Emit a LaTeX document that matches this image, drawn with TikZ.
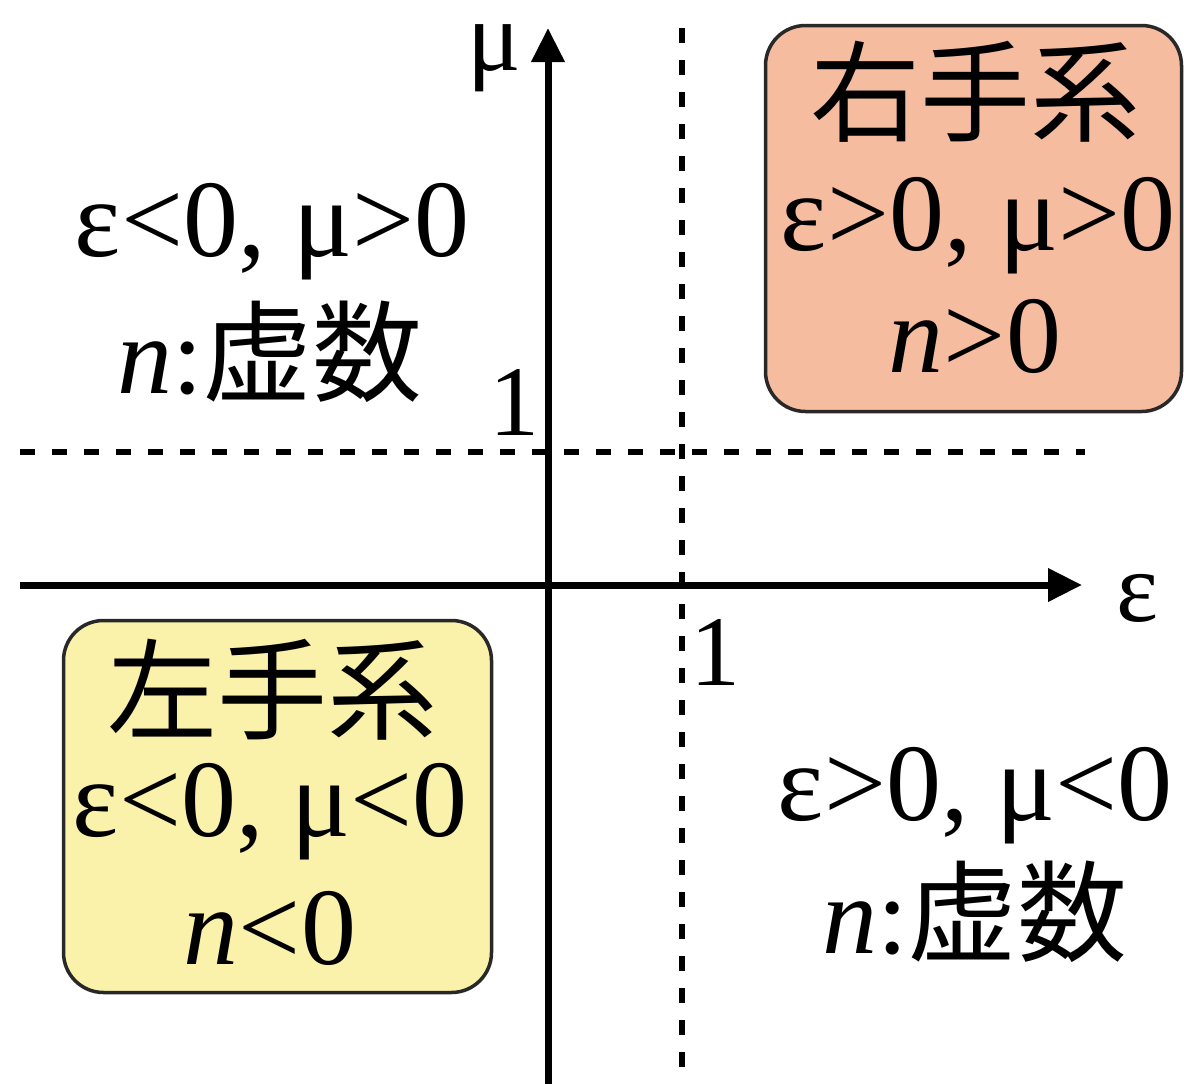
\documentclass[tikz,border=0pt]{standalone}
\usepackage{fontspec}
\setmainfont{Liberation Serif}
\newfontfamily\cjk{Noto Sans CJK JP}
\usetikzlibrary{arrows.meta}
\definecolor{rfill}{RGB}{246,188,160}
\definecolor{lfill}{RGB}{250,242,170}
\definecolor{bordc}{RGB}{40,40,40}
\begin{document}
\begin{tikzpicture}[x=1pt,y=-1pt,
  big/.style={font=\fontsize{110}{120}\selectfont, inner sep=0pt},
  lbl/.style={font=\fontsize{100}{110}\selectfont, inner sep=0pt},
  axis/.style={line width=7pt, -{Triangle[length=34pt,width=32pt]}},
  guide/.style={line width=6.5pt, dash pattern=on 15pt off 17pt},
  regbox/.style={draw=bordc, line width=3.5pt, rounded corners=40pt, inner sep=0pt}]
\useasboundingbox (0,0) rectangle (1184,1084);
% boxes
\node[regbox, fill=rfill, minimum width=416pt, minimum height=386pt] (rbox) at (973.5,218.5) {};
\node[regbox, fill=lfill, minimum width=428pt, minimum height=372pt] (lbox) at (277.5,806.5) {};
% guide lines
\coordinate (vt) at (682,28);
\coordinate (vb) at (682,1084);
\coordinate (hl) at (20,452);
\coordinate (hr) at (1085,452);
\draw[guide] (vt) -- (vb);
\draw[guide] (hl) -- (hr);
% axes
\coordinate (xs) at (20,585);
\coordinate (xe) at (1082,585);
\coordinate (ys) at (548,1084);
\coordinate (ye) at (548,28);
\draw[axis] (xs) -- (xe);
\draw[axis] (ys) -- (ye);
% axis labels
\node[lbl] (mu) at (494,58) {μ};
\node[lbl] (eps) at (1137,598) {ε};
\node[lbl] (one1) at (514,402) {1};
\node[lbl] (one2) at (715,652) {1};
% right box text
\node[big] (rt) at (975,92) {\cjk 右手系};
\node[big] (r2) at (978,226) {ε>0, μ>0};
\node[big] (r3) at (975,336) {\textit{n}>0};
% left box text
\node[big] (lt) at (272,690) {\cjk 左手系};
\node[big] (l2) at (270,812) {ε<0, μ<0};
\node[big] (l3) at (270,928) {\textit{n}<0};
% upper left
\node[big] (ul1) at (272,232) {ε<0, μ>0};
\node[big] (ul2) at (270,352) {\textit{n}:{\cjk 虚数}};
% lower right
\node[big] (lr1) at (975,796) {ε>0, μ<0};
\node[big] (lr2) at (975,912) {\textit{n}:{\cjk 虚数}};
\end{tikzpicture}
\end{document}
